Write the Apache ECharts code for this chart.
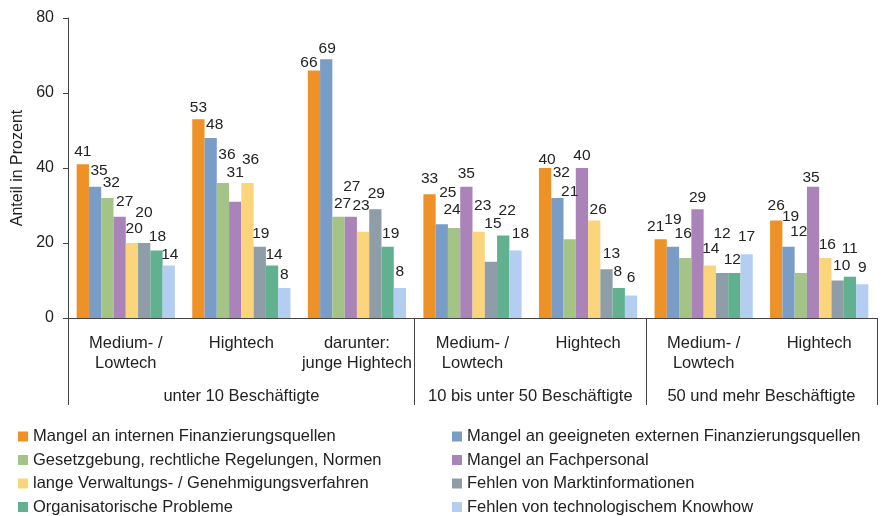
<!DOCTYPE html>
<html>
<head>
<meta charset="utf-8">
<script src="https://cdn.jsdelivr.net/npm/echarts@6/dist/echarts.min.js"></script>
<style>
  html, body { margin: 0; padding: 0; background: #fff; }
  #chart { width: 883px; height: 516px; }
</style>
</head>
<body>
<div id="chart"></div>
<script>
// Daten
const categories = ['Medium- /\nLowtech', 'Hightech', 'darunter:\njunge Hightech', 'Medium- /\nLowtech', 'Hightech', 'Medium- /\nLowtech', 'Hightech'];
const groupNames = ['unter 10 Beschäftigte', '10 bis unter 50 Beschäftigte', '50 und mehr Beschäftigte'];
const groupSpans = [3, 2, 2];
const yTicks = [0, 20, 40, 60, 80];

const seriesNames = [
    'Mangel an internen Finanzierungsquellen',
    'Mangel an geeigneten externen Finanzierungsquellen',
    'Gesetzgebung, rechtliche Regelungen, Normen',
    'Mangel an Fachpersonal',
    'lange Verwaltungs- / Genehmigungsverfahren',
    'Fehlen von Marktinformationen',
    'Organisatorische Probleme',
    'Fehlen von technologischem Knowhow'
];
const internFinanz = [41, 53, 66, 33, 40, 21, 26];
const externFinanz = [35, 48, 69, 25, 32, 19, 19];
const gesetzgebung = [32, 36, 27, 24, 21, 16, 12];
const fachpersonal = [27, 31, 27, 35, 40, 29, 35];
const verwaltung = [20, 36, 23, 23, 26, 14, 16];
const marktinfo = [20, 19, 29, 15, 13, 12, 10];
const organisation = [18, 14, 19, 22, 8, 12, 11];
const knowhow = [14, 8, 8, 18, 6, 17, 9];
const seriesValues = [internFinanz, externFinanz, gesetzgebung, fachpersonal, verwaltung, marktinfo, organisation, knowhow];

// Stil: Farben und Verschiebung der Wertbeschriftungen (wie im Original von Hand versetzt)
const colors = ['#EE9127', '#7A9DC8', '#A4C487', '#AA84B8', '#FAD57B', '#8F9DA8', '#61B08F', '#B4CEF2'];
const labelOffsets = [
    [[0, 0], [0, 1], [-5, 5], [0, -3], [2, 5], [-5, 0], [0, -2]],
    [[4, -3], [4, 0], [1, 2], [6, -19], [4, -12], [0, -14], [2, -17]],
    [[4, -2], [4, -15], [4, 0], [-2, -5], [0, -35], [-2, -11], [-2, -28]],
    [[5, -2], [0, -16], [1, -17], [0, 0], [0, 1], [0, 1], [-2, 4]],
    [[12, -17], [3, -10], [-2, -13], [4, -13], [4, 2], [1, -4], [2, 0]],
    [[-10, -1], [1, 0], [1, -3], [2, -25], [5, -3], [0, -26], [4, -2]],
    [[1, -1], [2, 2], [3, 0], [4, -12], [-1, -3], [-2, 0], [0, -15]],
    [[1, 2], [0, 0], [0, -3], [5, -4], [0, -5], [0, -5], [0, -4]]
];

const font = 'Liberation Sans, Arial, sans-serif';
const textColor = '#222';
const lineColor = '#444';

// Gruppen-Achse: Halbschritte, damit Beschriftungen mittig über den Gruppen stehen
const halfSteps = [];
const groupBounds = [0];
const groupCenters = {};
let pos = 0;
groupSpans.forEach((span, i) => {
    groupCenters[pos + span] = groupNames[i];
    pos += span * 2;
    groupBounds.push(pos);
});
for (let i = 0; i <= pos; i++) halfSteps.push(String(i));

const chart = echarts.init(document.getElementById('chart'));

const legendStyle = {
    orient: 'vertical', top: 428, height: 120, padding: 0,
    itemWidth: 10, itemHeight: 10, itemGap: 6.5, icon: 'rect',
    textStyle: { fontSize: 16.5, lineHeight: 16, color: textColor, fontFamily: font }
};

const option = {
    animation: false,
    color: colors,
    textStyle: { fontFamily: font },
    grid: { left: 68, right: 6, top: 18, bottom: 198, containLabel: false },
    legend: [
        Object.assign({ data: seriesNames.filter((n, i) => i % 2 === 0), left: 18 }, legendStyle),
        Object.assign({ data: seriesNames.filter((n, i) => i % 2 === 1), left: 452 }, legendStyle)
    ],
    xAxis: [
        {
            type: 'category',
            data: categories,
            axisLine: { lineStyle: { color: lineColor } },
            axisTick: { interval: 0, length: 54, lineStyle: { color: lineColor } },
            axisLabel: { interval: 0, margin: 15, fontSize: 16.5, lineHeight: 20, color: textColor, fontFamily: font }
        },
        {
            type: 'category',
            position: 'bottom',
            boundaryGap: false,
            data: halfSteps,
            axisLine: { show: false },
            axisTick: {
                length: 87,
                interval: (idx) => groupBounds.includes(idx),
                lineStyle: { color: lineColor }
            },
            axisLabel: {
                interval: (idx) => groupCenters[idx] !== undefined,
                formatter: (v, idx) => groupCenters[idx] || '',
                margin: 68, fontSize: 16.5, lineHeight: 20, color: textColor, fontFamily: font
            }
        }
    ],
    yAxis: {
        type: 'value',
        min: yTicks[0],
        max: yTicks[yTicks.length - 1],
        interval: yTicks[1] - yTicks[0],
        name: 'Anteil in Prozent',
        nameLocation: 'middle',
        nameGap: 40,
        nameTextStyle: { fontSize: 16, color: textColor, fontFamily: font },
        splitLine: { show: false },
        axisLine: { show: true, lineStyle: { color: lineColor } },
        axisTick: { show: true, length: 5, lineStyle: { color: lineColor } },
        axisLabel: { margin: 14, fontSize: 16, color: textColor, fontFamily: font }
    },
    series: seriesNames.map((name, i) => ({
        name: name,
        type: 'bar',
        xAxisIndex: 0,
        data: seriesValues[i].map((v, j) => ({
            value: v,
            label: { offset: labelOffsets[i][j] }
        })),
        barGap: 0,
        barCategoryGap: '15%',
        label: { show: true, position: 'top', fontSize: 15.5, color: textColor, fontFamily: font }
    }))
};

chart.setOption(option);
</script>
</body>
</html>
